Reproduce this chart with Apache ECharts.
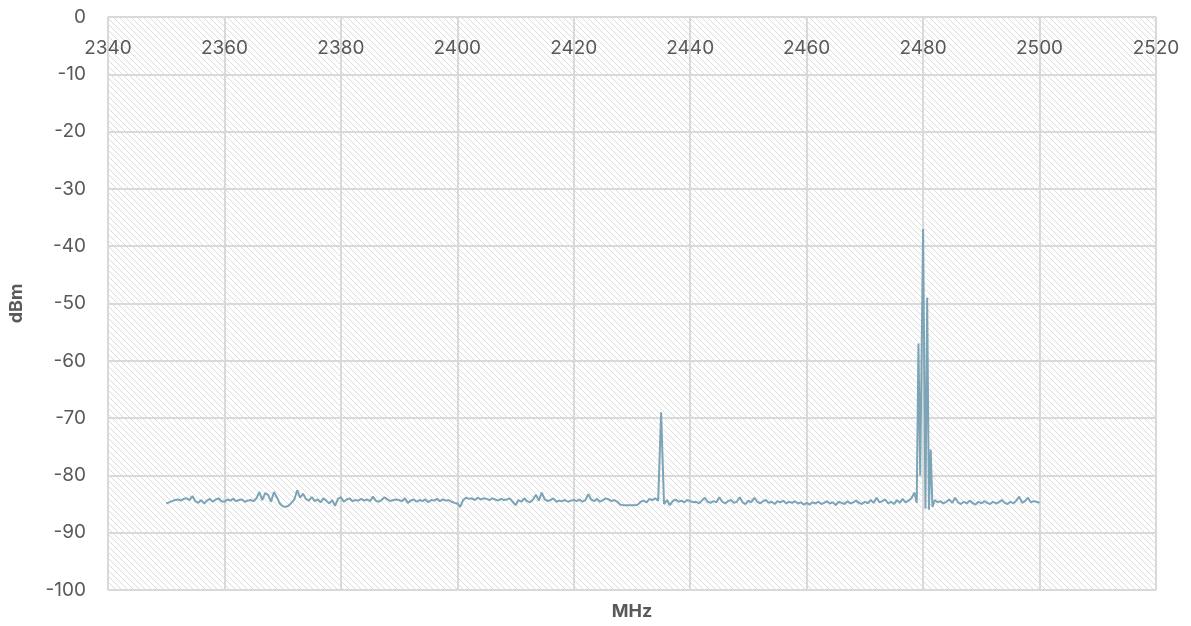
<!DOCTYPE html>
<html lang="en">
<head>
    <meta charset="UTF-8">
    <title>Spectrum</title>
    <script type="text/javascript" src="https://cdn.jsdelivr.net/npm/echarts@6/dist/echarts.min.js"></script>
    <style>
        html, body { margin: 0; padding: 0; background: #fff; }
    </style>
</head>
<body>
    <div id="main" style="width: 1191px; height: 626px;"></div>
    <script type="text/javascript">
        // sweep from 2350 MHz in 0.5 MHz steps up to 2478.5 MHz
        var sweepStart = 2350;
        var sweepStep = 0.5;
        var sweepA = [
            -84.9, -84.7, -84.5, -84.3, -84.2, -84.4, -84.1, -84.0, -84.3, -83.6, -84.5, -84.8, -84.3, -84.9, -84.4, -84.1, -84.6, -84.2, -84.0, -84.5,
            -84.6, -84.2, -84.4, -84.1, -84.5, -84.3, -84.2, -84.6, -84.4, -84.3, -84.5, -84.0, -82.9, -84.3, -83.1, -83.4, -84.6, -82.9, -83.8, -84.9,
            -85.4, -85.5, -85.3, -84.8, -84.2, -82.6, -83.9, -83.2, -84.1, -84.4, -83.8, -84.5, -84.2, -84.7, -84.0, -84.4, -84.9, -84.3, -85.3, -84.1,
            -83.8, -84.6, -84.2, -84.0, -84.5, -84.3, -84.4, -84.1, -84.4, -84.2, -84.5, -83.7, -84.4, -84.6, -84.3, -83.8, -84.2, -84.5, -84.3, -84.2,
            -84.3, -84.5, -84.0, -84.8, -84.4, -84.2, -84.6, -84.3, -84.5, -84.2, -84.7, -84.3, -84.4, -84.1, -84.5, -84.2, -84.4, -84.3, -84.6, -84.8,
            -84.9, -85.5, -84.3, -83.9, -84.1, -84.0, -84.3, -83.9, -84.2, -84.0, -84.1, -84.3, -84.0, -84.2, -84.4, -84.1, -84.3, -84.2, -84.0, -84.6,
            -85.2, -84.3, -84.6, -84.0, -84.5, -84.7, -84.2, -83.4, -84.4, -83.0, -84.2, -84.5, -84.3, -84.0, -84.6, -84.4, -84.5, -84.3, -84.6, -84.4,
            -84.3, -84.5, -84.2, -84.6, -84.3, -83.3, -84.2, -84.5, -84.1, -84.6, -84.3, -84.0, -84.2, -84.5, -84.3, -84.6, -85.1, -85.2, -85.2, -85.2,
            -85.2, -85.2, -85.1, -84.6, -84.4, -84.7, -84.1, -84.3, -84.0, -84.4, -69.0, -85.0, -84.3, -85.2, -84.5, -84.2, -84.6, -84.4, -84.7, -84.3,
            -84.5, -84.7, -84.6, -84.9, -84.4, -83.9, -84.6, -84.8, -84.5, -84.7, -83.8, -84.6, -84.9, -84.5, -84.3, -84.8, -84.6, -83.8, -84.7, -85.0,
            -84.4, -84.7, -83.9, -84.6, -84.9, -84.5, -84.3, -84.8, -84.6, -85.0, -84.5, -84.7, -84.4, -84.9, -84.6, -84.8, -84.5, -84.9, -84.7, -85.1,
            -84.8, -85.1, -84.7, -84.9, -84.6, -85.0, -84.8, -84.5, -84.9, -84.7, -85.2, -84.6, -84.8, -85.0, -84.5, -84.9, -84.7, -84.4, -84.8, -85.0,
            -84.6, -84.9, -84.3, -84.8, -83.9, -84.7, -84.5, -84.2, -84.9, -84.6, -85.0, -84.3, -84.8, -84.1, -84.7, -84.4, -84.0, -83.0
        ];

        // the carrier burst around 2480 MHz, read point by point
        var burstMHz = [2478.9, 2479.2, 2479.5, 2480.0, 2480.4, 2480.7, 2481.0, 2481.3, 2481.6];
        var burstDbm = [-84.8, -57.0, -80.0, -37.0, -85.8, -49.0, -86.0, -75.5, -85.5];

        // sweep again from 2482 to 2500 MHz, 0.5 MHz steps
        var sweepBStart = 2482;
        var sweepB = [
            -84.3, -84.7, -84.5, -84.9, -84.6, -84.2, -84.8, -83.9, -84.7, -85.0,
            -84.6, -84.9, -84.4, -84.8, -85.1, -84.6, -84.9, -84.5, -84.8, -85.0,
            -84.6, -84.9, -84.7, -84.3, -84.8, -85.0, -84.6, -84.9, -84.4, -83.7,
            -84.8, -84.5, -83.9, -84.7, -84.5, -84.6, -84.8
        ];

        var data = [];
        sweepA.forEach(function(v, i) { data.push([sweepStart + i * sweepStep, v]); });
        burstMHz.forEach(function(f, i) { data.push([f, burstDbm[i]]); });
        sweepB.forEach(function(v, i) { data.push([sweepBStart + i * sweepStep, v]); });

        // diagonal hatch for the plot background
        var tile = document.createElement('canvas');
        tile.width = 6;
        tile.height = 6;
        var ctx = tile.getContext('2d');
        ctx.fillStyle = '#ffffff';
        ctx.fillRect(0, 0, 6, 6);
        ctx.fillStyle = '#dcdcdc';
        for (var i = 0; i < 6; i++) {
            ctx.fillRect(i, i, 1, 1);
        }

        var chartDom = document.getElementById('main');
        var myChart = echarts.init(chartDom);
        var font = 'Inter, "Open Sans", sans-serif';
        var grey = '#595959';
        var gridLine = '#d9d9d9';

        var option = {
            animation: false,
            grid: {
                left: 108,
                right: 35,
                top: 17,
                bottom: 35,
                show: true,
                borderColor: gridLine,
                borderWidth: 1,
                backgroundColor: { image: tile, repeat: 'repeat' }
            },
            xAxis: [{
                type: 'value',
                position: 'top',
                min: 2340,
                max: 2520,
                interval: 20,
                axisLine: { show: false },
                axisTick: { show: false },
                axisLabel: {
                    inside: true,
                    margin: 22,
                    color: grey,
                    fontSize: 19,
                    fontFamily: font,
                    formatter: function(v) { return String(v); }
                },
                splitLine: { lineStyle: { color: gridLine, width: 2 } }
            }, {
                type: 'value',
                position: 'bottom',
                min: 2340,
                max: 2520,
                axisLine: { show: false },
                axisTick: { show: false },
                axisLabel: { show: false },
                splitLine: { show: false },
                name: 'MHz',
                nameLocation: 'middle',
                nameGap: 13,
                nameTextStyle: {
                    color: grey,
                    fontSize: 18,
                    fontWeight: 'bold',
                    fontFamily: font
                }
            }],
            yAxis: {
                type: 'value',
                min: -100,
                max: 0,
                interval: 10,
                axisLine: { show: false },
                axisTick: { show: false },
                axisLabel: {
                    margin: 22,
                    color: grey,
                    fontSize: 19,
                    fontFamily: font
                },
                splitLine: { lineStyle: { color: gridLine, width: 2 } },
                name: 'dBm',
                nameLocation: 'middle',
                nameGap: 82,
                nameTextStyle: {
                    color: grey,
                    fontSize: 18,
                    fontWeight: 'bold',
                    fontFamily: font
                }
            },
            series: [{
                type: 'line',
                xAxisIndex: 0,
                showSymbol: false,
                data: data,
                lineStyle: { color: '#7ca4b7', width: 2 },
                itemStyle: { color: '#7ca4b7' }
            }]
        };

        option && myChart.setOption(option);
    </script>
</body>
</html>
